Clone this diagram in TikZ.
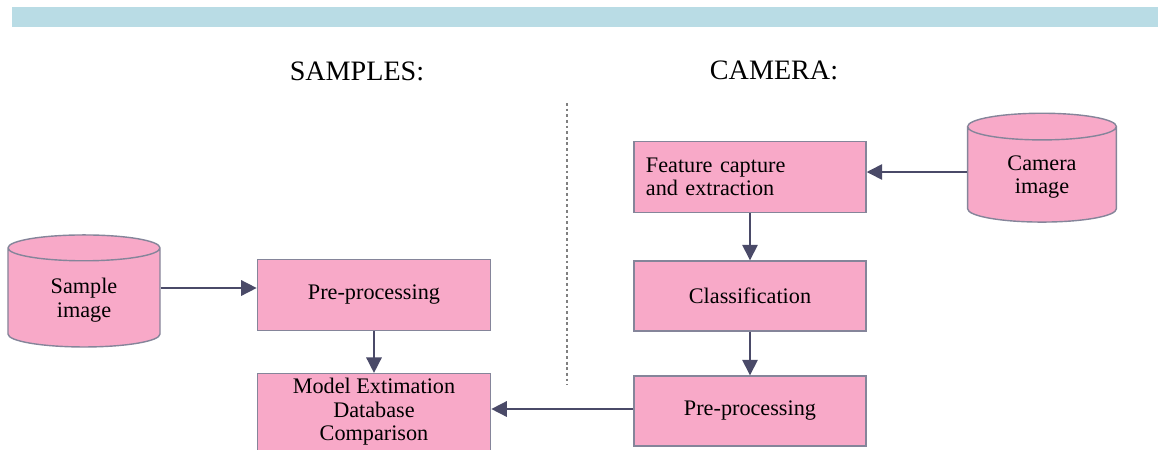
\documentclass[tikz,border=0pt]{standalone}
\usepackage{fontspec}
\setmainfont{Liberation Serif}
\usepackage{tikz}
\usetikzlibrary{arrows.meta,shapes.geometric}
\definecolor{bandblue}{HTML}{B9DCE5}
\definecolor{boxpink}{HTML}{F8A9C8}
\definecolor{boxedge}{HTML}{85859A}
\definecolor{arrowink}{HTML}{4A4A68}

\begin{document}
\begin{tikzpicture}[x=0.025cm, y=-0.025cm,
  box/.style={draw=boxedge, fill=boxpink, line width=1pt, minimum width=5.83cm,
    minimum height=1.78cm, align=center, font=\fontsize{15.8}{16.8}\selectfont},
  store/.style={cylinder, shape border rotate=90, aspect=0.34, draw=boxedge,
    fill=boxpink, line width=1pt, align=center, font=\fontsize{15.8}{16.8}\selectfont},
  flow/.style={arrowink, line width=1.1pt, -{Triangle[length=11pt, width=11pt]}},
  heading/.style={font=\fontsize{20}{23}\selectfont}]

  \useasboundingbox (0,0) rectangle (1158,449);

  % -- top band ------------------------------------------------------------
  \fill[bandblue] (12,7) rectangle (1158,27);

  % -- headings and the dotted divider -------------------------------------
  \node[heading] (samples) at (357,71) {SAMPLES:};
  \node[heading] (camera) at (774,70) {CAMERA:};
  \draw[black!50, line width=1.3pt, dash pattern=on 2pt off 2pt] (567,103) -- (567,385);

  % -- left side: samples --------------------------------------------------
  \node[store, minimum width=3.8cm, minimum height=2.8cm] (sampleimg) at (84,300) {Sample\\image};
  \node[box] (preL) at (374,295) {Pre-processing};
  \node[box, minimum height=1.83cm] (model) at (374,412) {Model Extimation\\Database\\Comparison};

  % -- right side: camera --------------------------------------------------
  \node[store, minimum width=3.72cm, minimum height=2.72cm] (camimg) at (1042,177) {Camera\\image};
  \node[box, minimum width=5.8cm, text width=5.2cm, align=left] (feature) at (750,177) {Feature capture\\and extraction};
  \node[box, minimum width=5.8cm, minimum height=1.75cm] (classif) at (750,296) {Classification};
  \node[box, minimum width=5.8cm, minimum height=1.75cm] (preR) at (750,411) {Pre-processing};

  % -- connectors ----------------------------------------------------------
  \draw[flow] (sampleimg.east |- 0,288) -- (preL.west |- 0,288);
  \draw[flow] (preL) -- (model);
  \draw[flow] (camimg.west |- 0,172) -- (feature.east |- 0,172);
  \draw[flow] (feature) -- (classif);
  \draw[flow] (classif) -- (preR);
  \draw[flow] (preR.west |- 0,409) -- (model.east |- 0,409);

\end{tikzpicture}
\end{document}
